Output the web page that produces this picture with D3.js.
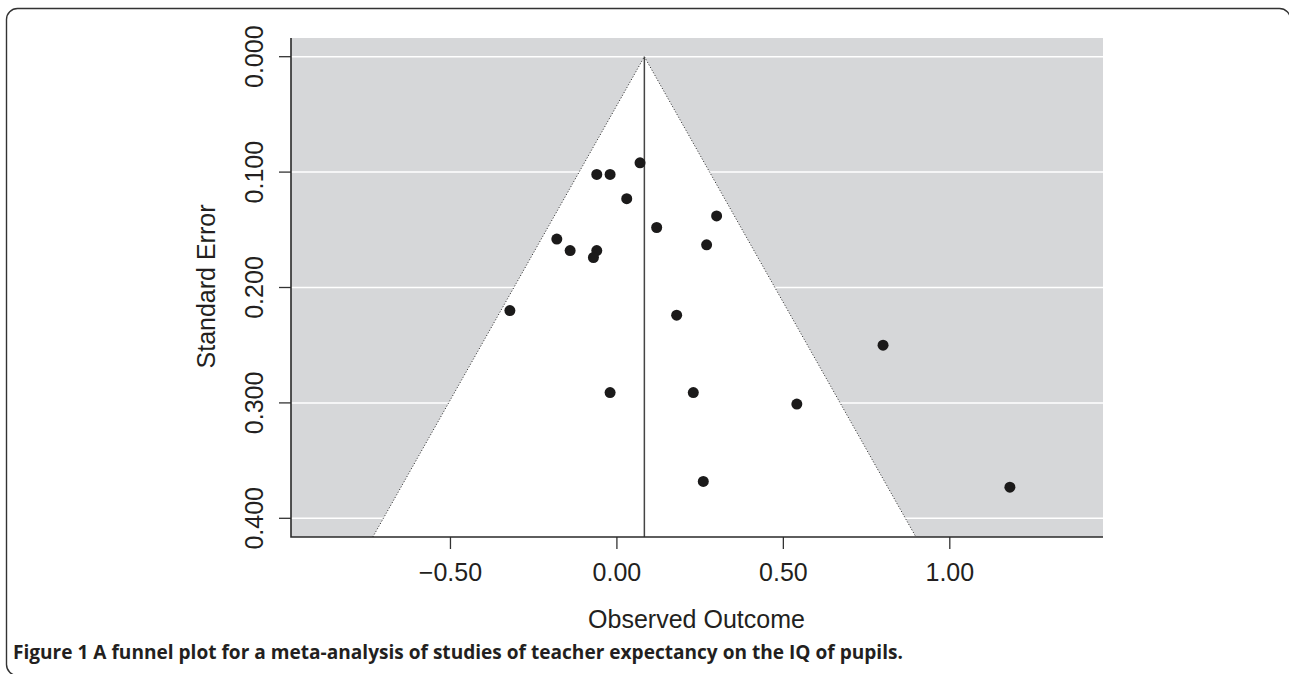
<!DOCTYPE html>
<html>
<head>
<meta charset="utf-8">
<script src="https://cdn.jsdelivr.net/npm/d3@7"></script>
<style>
  html, body { margin: 0; padding: 0; background: #fff; overflow: hidden; }
  svg { display: block; }
</style>
</head>
<body>
<svg id="chart" width="1289" height="674"></svg>
<script>
// ---- data ----
const estimates = [0.071, -0.059, -0.019, 0.031, -0.179, -0.139, -0.059, -0.069, 0.121, 0.301, 0.271,
                   -0.320, 0.181, 0.801, -0.019, 0.231, 0.542, 0.261, 1.182];
const standardErrors = [0.092, 0.102, 0.102, 0.123, 0.158, 0.168, 0.168, 0.174, 0.148, 0.138, 0.163,
                        0.220, 0.224, 0.250, 0.291, 0.291, 0.301, 0.368, 0.373];
const pooledEstimate = 0.084;
const xTicks = [-0.5, 0, 0.5, 1.0];
const xTickLabels = ["\u22120.50", "0.00", "0.50", "1.00"];
const yTicks = [0, 0.1, 0.2, 0.3, 0.4];
const yTickLabels = ["0.000", "0.100", "0.200", "0.300", "0.400"];
const xDomain = [-0.9775, 1.4617];
const yDomain = [-0.0162, 0.4162];
const zCrit = 1.96;

const svg = d3.select("#chart");
const L = 291, R = 1103, T = 38, B = 537;
const x = d3.scaleLinear().domain(xDomain).range([L, R]);
const y = d3.scaleLinear().domain(yDomain).range([T, B]);
const font = "'Liberation Sans', Arial, Helvetica, sans-serif";
const textCol = "#231f20";

// frame: left edge, top edge and the two visible rounded corners
svg.append("path")
  .attr("d", "M60,675.5 H17.5 A11,11 0 0 1 6.5,664.5 V19.5 A11,11 0 0 1 17.5,8.5 H1279.5 A11,11 0 0 1 1290.5,19.5")
  .attr("fill", "none").attr("stroke", "#333").attr("stroke-width", 1.4);

// gray background
svg.append("rect").attr("x", L).attr("y", T).attr("width", R - L).attr("height", B - T)
  .attr("fill", "#d6d7d9");

// gridlines
svg.append("g").selectAll("line").data(yTicks).join("line")
  .attr("x1", L).attr("x2", R).attr("y1", d => y(d)).attr("y2", d => y(d))
  .attr("stroke", "#fff").attr("stroke-width", 1.5);

// funnel region
const seBottom = yDomain[1];
const funnel = [
  [x(pooledEstimate - zCrit * seBottom), y(seBottom)],
  [x(pooledEstimate), y(0)],
  [x(pooledEstimate + zCrit * seBottom), y(seBottom)]
];
svg.append("polygon").attr("points", funnel.map(p => p.join(",")).join(" "))
  .attr("fill", "#fff");
svg.append("path")
  .attr("d", d3.line()([funnel[0], funnel[1]]))
  .attr("stroke", "#222").attr("stroke-width", 1).attr("stroke-dasharray", "1,2").attr("fill", "none");
svg.append("path")
  .attr("d", d3.line()([funnel[1], funnel[2]]))
  .attr("stroke", "#222").attr("stroke-width", 1).attr("stroke-dasharray", "1,2").attr("fill", "none");

// vertical pooled estimate line
svg.append("line").attr("x1", x(pooledEstimate)).attr("x2", x(pooledEstimate))
  .attr("y1", y(0)).attr("y2", B).attr("stroke", "#444").attr("stroke-width", 1.5);

// points
svg.append("g").selectAll("circle").data(estimates).join("circle")
  .attr("cx", d => x(d)).attr("cy", (d, i) => y(standardErrors[i])).attr("r", 5.5)
  .attr("fill", "#1b1a1a");

// axes
const xAxis = d3.axisBottom(x).tickValues(xTicks).tickSize(12).tickPadding(8)
  .tickFormat((d, i) => xTickLabels[i]);
const gx = svg.append("g").attr("transform", `translate(0,${B})`).call(xAxis);
gx.select(".domain").remove();
gx.selectAll("line").attr("stroke", "#333").attr("stroke-width", 1.3);
gx.selectAll("text").attr("font-family", font).attr("font-size", 25).attr("fill", textCol)
  .attr("dy", null).attr("y", 44);

const gy = svg.append("g").attr("transform", `translate(${L},0)`);
gy.selectAll("line").data(yTicks).join("line")
  .attr("x1", -12).attr("x2", 0).attr("y1", d => y(d)).attr("y2", d => y(d))
  .attr("stroke", "#333").attr("stroke-width", 1.3);
gy.selectAll("text").data(yTicks).join("text")
  .attr("transform", d => `translate(-28,${y(d)}) rotate(-90)`)
  .attr("text-anchor", "middle")
  .attr("font-family", font).attr("font-size", 25).attr("fill", textCol)
  .text((d, i) => yTickLabels[i]);

// L-shaped box
svg.append("path").attr("d", `M${L},${T}V${B}H${R}`).attr("fill", "none")
  .attr("stroke", "#2a2a2a").attr("stroke-width", 1.6);

// axis titles
svg.append("text").attr("x", (L + R) / 2 - 0.5).attr("y", 628)
  .attr("text-anchor", "middle").attr("font-family", font).attr("font-size", 25)
  .attr("fill", textCol).text("Observed Outcome");
svg.append("text").attr("transform", `translate(215,${(T + B) / 2 - 1}) rotate(-90)`)
  .attr("text-anchor", "middle").attr("font-family", font).attr("font-size", 25)
  .attr("fill", textCol).text("Standard Error");

// caption
const cap = svg.append("text").attr("x", 13).attr("y", 659)
  .attr("font-family", "'Open Sans', 'Noto Sans', sans-serif").attr("font-weight", "bold")
  .attr("font-size", 16).attr("fill", textCol)
  .text("Figure 1 A funnel plot for a meta-analysis of studies of teacher expectancy on the IQ of pupils.");
const w = cap.node().getComputedTextLength();
cap.attr("font-size", 16 * 890 / w);
</script>
</body>
</html>
